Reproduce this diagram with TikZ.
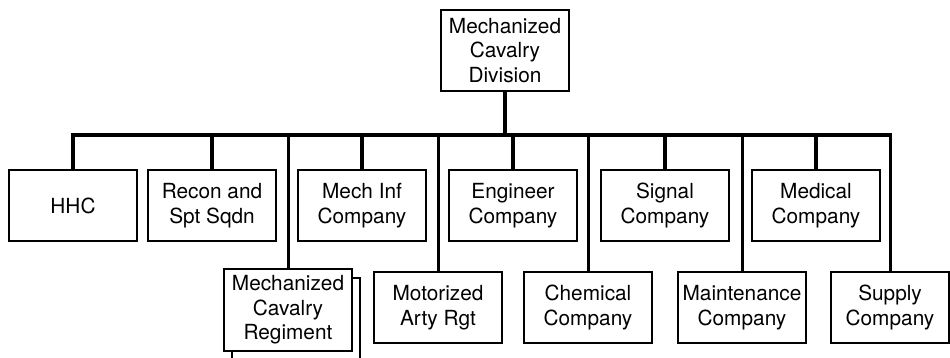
\documentclass[tikz,border=0pt]{standalone}
\usepackage{fontspec}
\setmainfont{TeX Gyre Heros}
\usepackage{tikz}
\usetikzlibrary{positioning, calc}

\tikzset{
  unitbox/.style={draw, line width=1pt, fill=white, rectangle, align=center,
    minimum width=64pt, minimum height=35.5pt, inner sep=1pt,
    font=\fontsize{10.4}{12.2}\selectfont},
  busline/.style={line width=2.4pt, line cap=rect},
  upperstem/.style={line width=2.2pt},
  lowerstem/.style={line width=1.5pt}
}

\begin{document}
\begin{tikzpicture}[x=0.5pt, y=-0.5pt]
			\useasboundingbox (0,0) rectangle (950,358);
			\pgfmathsetmacro{\upy}{205.5}
			\pgfmathsetmacro{\lowy}{307.5}
			% division and the bus below it
			\node[unitbox, minimum height=40.5pt] (div) at (505,50.5) {Mechanized\\Cavalry\\Division};
			\coordinate (busL) at (73,135);
			% first row
			\node[unitbox] (hhc) at (73,\upy) {HHC};
			\node[unitbox] (recon) at (212,\upy) {Recon and\\Spt Sqdn};
			\node[unitbox] (mechinf) at (362,\upy) {Mech Inf\\Company};
			\node[unitbox] (engr) at (513,\upy) {Engineer\\Company};
			\node[unitbox] (signal) at (665,\upy) {Signal\\Company};
			\node[unitbox] (medical) at (816,\upy) {Medical\\Company};
			% second row
			\node[unitbox, minimum height=41pt] (regtback) at (296,319) {};
			\node[unitbox, minimum height=41pt] (regt) at (288,310) {Mechanized\\Cavalry\\Regiment};
			\node[unitbox] (arty) at (438,\lowy) {Motorized\\Arty Rgt};
			\node[unitbox] (chem) at (588,\lowy) {Chemical\\Company};
			\node[unitbox] (maint) at (742,\lowy) {Maintenance\\Company};
			\node[unitbox, minimum width=59pt] (supply) at (890,\lowy) {Supply\\Company};
			% connectors
			\draw[upperstem] (div.south) -- (div.south |- busL);
			\draw[busline] (hhc.north |- busL) -- (supply.north |- busL);
			\foreach \u in {hhc, recon, mechinf, engr, signal, medical}
				\draw[upperstem] (\u.north |- busL) -- (\u.north);
			\foreach \u in {regt, arty, chem, maint, supply}
				\draw[lowerstem] (\u.north |- busL) -- (\u.north);
\end{tikzpicture}
\end{document}
